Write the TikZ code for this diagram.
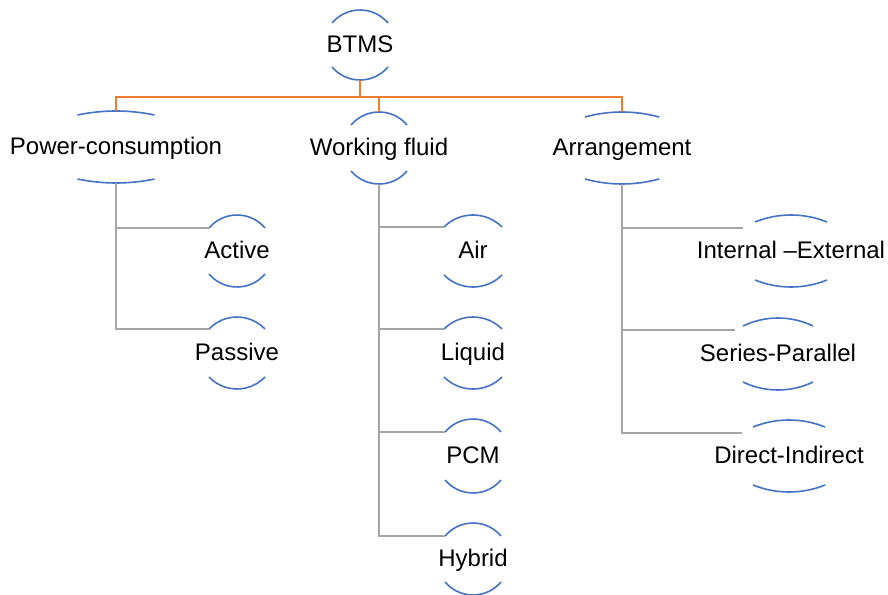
\documentclass[tikz,border=0pt]{standalone}
\usepackage{fontspec}
\setmainfont{Liberation Sans}
\usetikzlibrary{calc}
\definecolor{arcblue}{HTML}{4472C4}
\definecolor{orangeln}{HTML}{ED7D31}
\definecolor{grayln}{HTML}{A5A5A5}
\tikzset{
  lbl/.style={inner sep=0pt, text height=13pt, text depth=1.8pt, font=\fontsize{18}{20}\selectfont, text=black},
  arcl/.style={draw=arcblue, line width=1.2pt},
  orgln/.style={draw=orangeln, line width=1.2pt},
  grayl/.style={draw=grayln, line width=1.2pt}
}
% name, x, y, text, half-width, distance from centre, sag
\newcommand\bk[7]{%
  \node[lbl] (#1) at (#2,-#3) {#4};
  \pgfmathsetmacro\rr{(#5*#5+#7*#7)/(2*#7)}%
  \pgfmathsetmacro\aa{asin(#5/\rr)}%
  \draw[arcl] (#2-#5,-#3+#6) arc[start angle=90+\aa, end angle=90-\aa, radius=\rr];
  \draw[arcl] (#2-#5,-#3-#6) arc[start angle=270-\aa, end angle=270+\aa, radius=\rr];
  \coordinate (#1-t) at (#2,-#3+#6+#7);
  \coordinate (#1-b) at (#2,-#3-#6-#7);
  \coordinate (#1-l) at (#2-#5,-#3+#6);
}
\begin{document}
\begin{tikzpicture}[x=0.75pt,y=0.75pt]
\useasboundingbox (0,0) rectangle (888,-595);
\bk{btms}{360}{45}{BTMS}{28}{22}{13}
\bk{pc}{116}{147}{Power-consumption}{38.5}{32}{4}
\bk{wf}{379}{148}{Working fluid}{28}{23}{13}
\bk{ar}{622}{148}{Arrangement}{37}{31}{5}
\bk{act}{237}{251}{Active}{28}{23}{13}
\bk{pas}{237}{353}{Passive}{28}{24}{12}
\bk{air}{473}{251}{Air}{29}{24}{12}
\bk{liq}{473}{353}{Liquid}{29}{24}{12}
\bk{pcm}{473}{456}{PCM}{28}{24}{13}
\bk{hyb}{473}{559}{Hybrid}{28}{23}{13}
\bk{ie}{791}{251}{Internal –External}{36}{29}{7}
\bk{sp}{778}{354}{Series-Parallel}{35}{28}{8}
\bk{di}{789}{456}{Direct-Indirect}{36}{29}{7}
\coordinate (j) at (360,-97);
\coordinate (ie-c) at (743,-228);
\coordinate (sp-c) at (735,-330);
\coordinate (di-c) at (742,-433);
% orange connectors
\draw[orgln] (btms-b) -- (j);
\draw[orgln] (j) -| (pc-t);
\draw[orgln] (j) -| (wf-t);
\draw[orgln] (j) -| (ar-t);
% gray connectors
\draw[grayl] (pc-b) |- (act-l);
\draw[grayl] (pc-b) |- (pas-l);
\draw[grayl] (wf-b) |- (air-l);
\draw[grayl] (wf-b) |- (liq-l);
\draw[grayl] (wf-b) |- (pcm-l);
\draw[grayl] (wf-b) |- (hyb-l);
\draw[grayl] (ar-b) |- (ie-c);
\draw[grayl] (ar-b) |- (sp-c);
\draw[grayl] (ar-b) |- (di-c);
\end{tikzpicture}
\end{document}
